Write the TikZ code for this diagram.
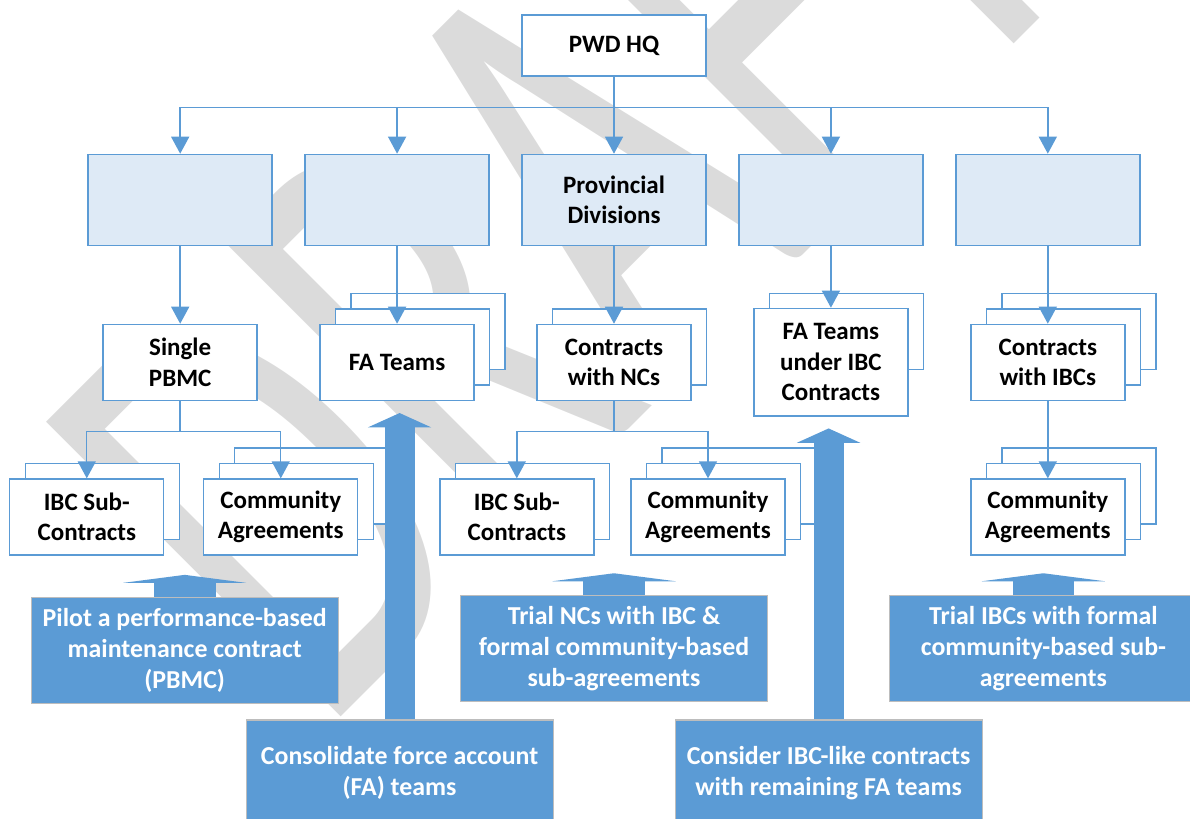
\documentclass[tikz,border=0pt]{standalone}
\usepackage{fontspec}
\setmainfont{Carlito}
\usepackage{xcolor}
\usepackage{tikz}
\usetikzlibrary{arrows.meta,positioning,shadows,calc}

\definecolor{accent}{HTML}{5B9BD5}
\definecolor{paleblue}{HTML}{DEEAF6}
\definecolor{wmark}{HTML}{DBDBDB}
\definecolor{rim}{HTML}{BDBDBD}

\begin{document}
\begin{tikzpicture}[
    font=\fontsize{17.8}{21.7}\selectfont\bfseries,
    card/.style={draw=accent, line width=1pt, fill=white, align=center,
                 minimum width=38.5mm, minimum height=19mm, inner sep=2pt},
    hqbox/.style={card, minimum width=46mm, minimum height=15.25mm},
    division/.style={card, fill=paleblue, minimum width=46mm, minimum height=22.75mm},
    stack2/.style={general shadow={shadow xshift=3.875mm, shadow yshift=3.875mm,
                   draw=accent, fill=white, line width=1pt}},
    stack3/.style={general shadow={shadow xshift=7.75mm, shadow yshift=7.75mm,
                   draw=accent, fill=white, line width=1pt}, stack2},
    action/.style={draw=rim, line width=0.8pt, fill=accent, text=white, align=center,
                   minimum width=76.75mm, minimum height=26.5mm,
                   font=\fontsize{18.4}{21.9}\selectfont\bfseries},
    link/.style={draw=accent, line width=1pt, -{Triangle[width=4.5mm,length=4.25mm]}},
    lift/.style={accent, line width=15.4mm,
                 -{Triangle[width=30.75mm,length=2mm,line width=0pt]}},
    biglift/.style={accent, line width=7.5mm,
                    -{Triangle[width=15.9mm,length=3.6mm,line width=0pt]}},
  ]
    \useasboundingbox (0,0) rectangle (297.5mm,-204.5mm);
    \clip (0,0) rectangle (297.5mm,-204.5mm);

    % --- watermark ---
    \node[text=wmark, anchor=base west, rotate=45, inner sep=0pt,
          font=\fontsize{462}{462}\selectfont] (draft) at (80.25mm,-184.25mm)
      {\scalebox{0.63}[1]{DRAFT}};

    % --- headquarters and divisions ---
    \node[hqbox] (hq) at (153.5mm,-11.375mm) {PWD HQ};
    \node[division, below=19.25mm of hq] (div3) {Provincial\\Divisions};
    \node[division, left=7.875mm of div3] (div2) {};
    \node[division, left=7.875mm of div2] (div1) {};
    \node[division, right=7.875mm of div3] (div4) {};
    \node[division, right=7.875mm of div4] (div5) {};

    \coordinate[below=7.75mm of hq.south] (bus0);
    \draw[link] (hq.south) -- (bus0) -| (div1.north);
    \draw[link] (hq.south) -- (bus0) -| (div2.north);
    \draw[link] (hq.south) -- (div3.north);
    \draw[link] (hq.south) -- (bus0) -| (div4.north);
    \draw[link] (hq.south) -- (bus0) -| (div5.north);

    % --- contracting units ---
    \node[card, below=19.4mm of div1] (pbmc) {Single\\PBMC};
    \node[card, stack3, below=19.4mm of div2] (fa) {FA Teams};
    \node[card, stack2, below=19.4mm of div3] (ncs) {Contracts\\with NCs};
    \node[card, below=11.675mm of div4, xshift=3.875mm] (faibcback) {};
    \node[card, minimum height=26.9mm, below=15.4mm of div4] (faibc)
      {FA Teams\\under IBC\\Contracts};
    \node[card, stack3, below=19.4mm of div5] (ibcs) {Contracts\\with IBCs};

    \draw[link] (div1) -- (pbmc);
    \draw[link] (div2) -- (fa);
    \draw[link] (div3) -- (ncs);
    \draw[link] (div4) -- (faibc);
    \draw[link] (div5) -- (ibcs);

    % --- sub-contracts and agreements ---
    \node[card, stack2, below=19.3mm of pbmc, xshift=-23.35mm] (sub1) {IBC Sub-\\Contracts};
    \node[card, stack3, below=19.3mm of pbmc, xshift=25.15mm] (com1) {Community\\Agreements};
    \node[card, stack2, below=19.3mm of ncs, xshift=-24.3mm] (sub2) {IBC Sub-\\Contracts};
    \node[card, stack3, below=19.3mm of ncs, xshift=23.5mm] (com2) {Community\\Agreements};
    \node[card, stack3, below=19.3mm of ibcs] (com3) {Community\\Agreements};

    \coordinate[below=7.65mm of pbmc.south] (bus1);
    \draw[link] (pbmc.south) -- (bus1) -| (sub1.north);
    \draw[link] (pbmc.south) -- (bus1) -| (com1.north);
    \coordinate[below=7.65mm of ncs.south] (bus2);
    \draw[link] (ncs.south) -- (bus2) -| (sub2.north);
    \draw[link] (ncs.south) -- (bus2) -| (com2.north);
    \draw[link] (ibcs) -- (com3);

    % --- reform actions ---
    \node[action] (pilot) at (46.175mm,-162.6mm)
      {Pilot a performance-based\\maintenance contract\\(PBMC)};
    \node[action] (trialnc) at (153.5mm,-162.2mm)
      {Trial NCs with IBC \&\\formal community-based\\sub-agreements};
    \node[action] (trialibc) at (260.85mm,-162.2mm)
      {Trial IBCs with formal\\community-based sub-\\agreements};
    \node[action] (consol) at (99.9mm,-193.25mm)
      {Consolidate force account\\(FA) teams};
    \node[action] (consider) at (207.15mm,-193.25mm)
      {Consider IBC-like contracts\\with remaining FA teams};

    \coordinate[above=5.5mm of pilot.north] (pilottip);
    \coordinate[above=5.5mm of trialnc.north] (trialnctip);
    \coordinate[above=5.5mm of trialibc.north] (trialibctip);
    \coordinate[above=76.6mm of consol.north] (consoltip);
    \coordinate[above=72.75mm of consider.north] (considertip);
    \draw[lift] (pilot.north) -- (pilottip);
    \draw[lift] (trialnc.north) -- (trialnctip);
    \draw[lift] (trialibc.north) -- (trialibctip);
    \draw[biglift] (consol.north) -- (consoltip);
    \draw[biglift] (consider.north) -- (considertip);
\end{tikzpicture}
\end{document}
